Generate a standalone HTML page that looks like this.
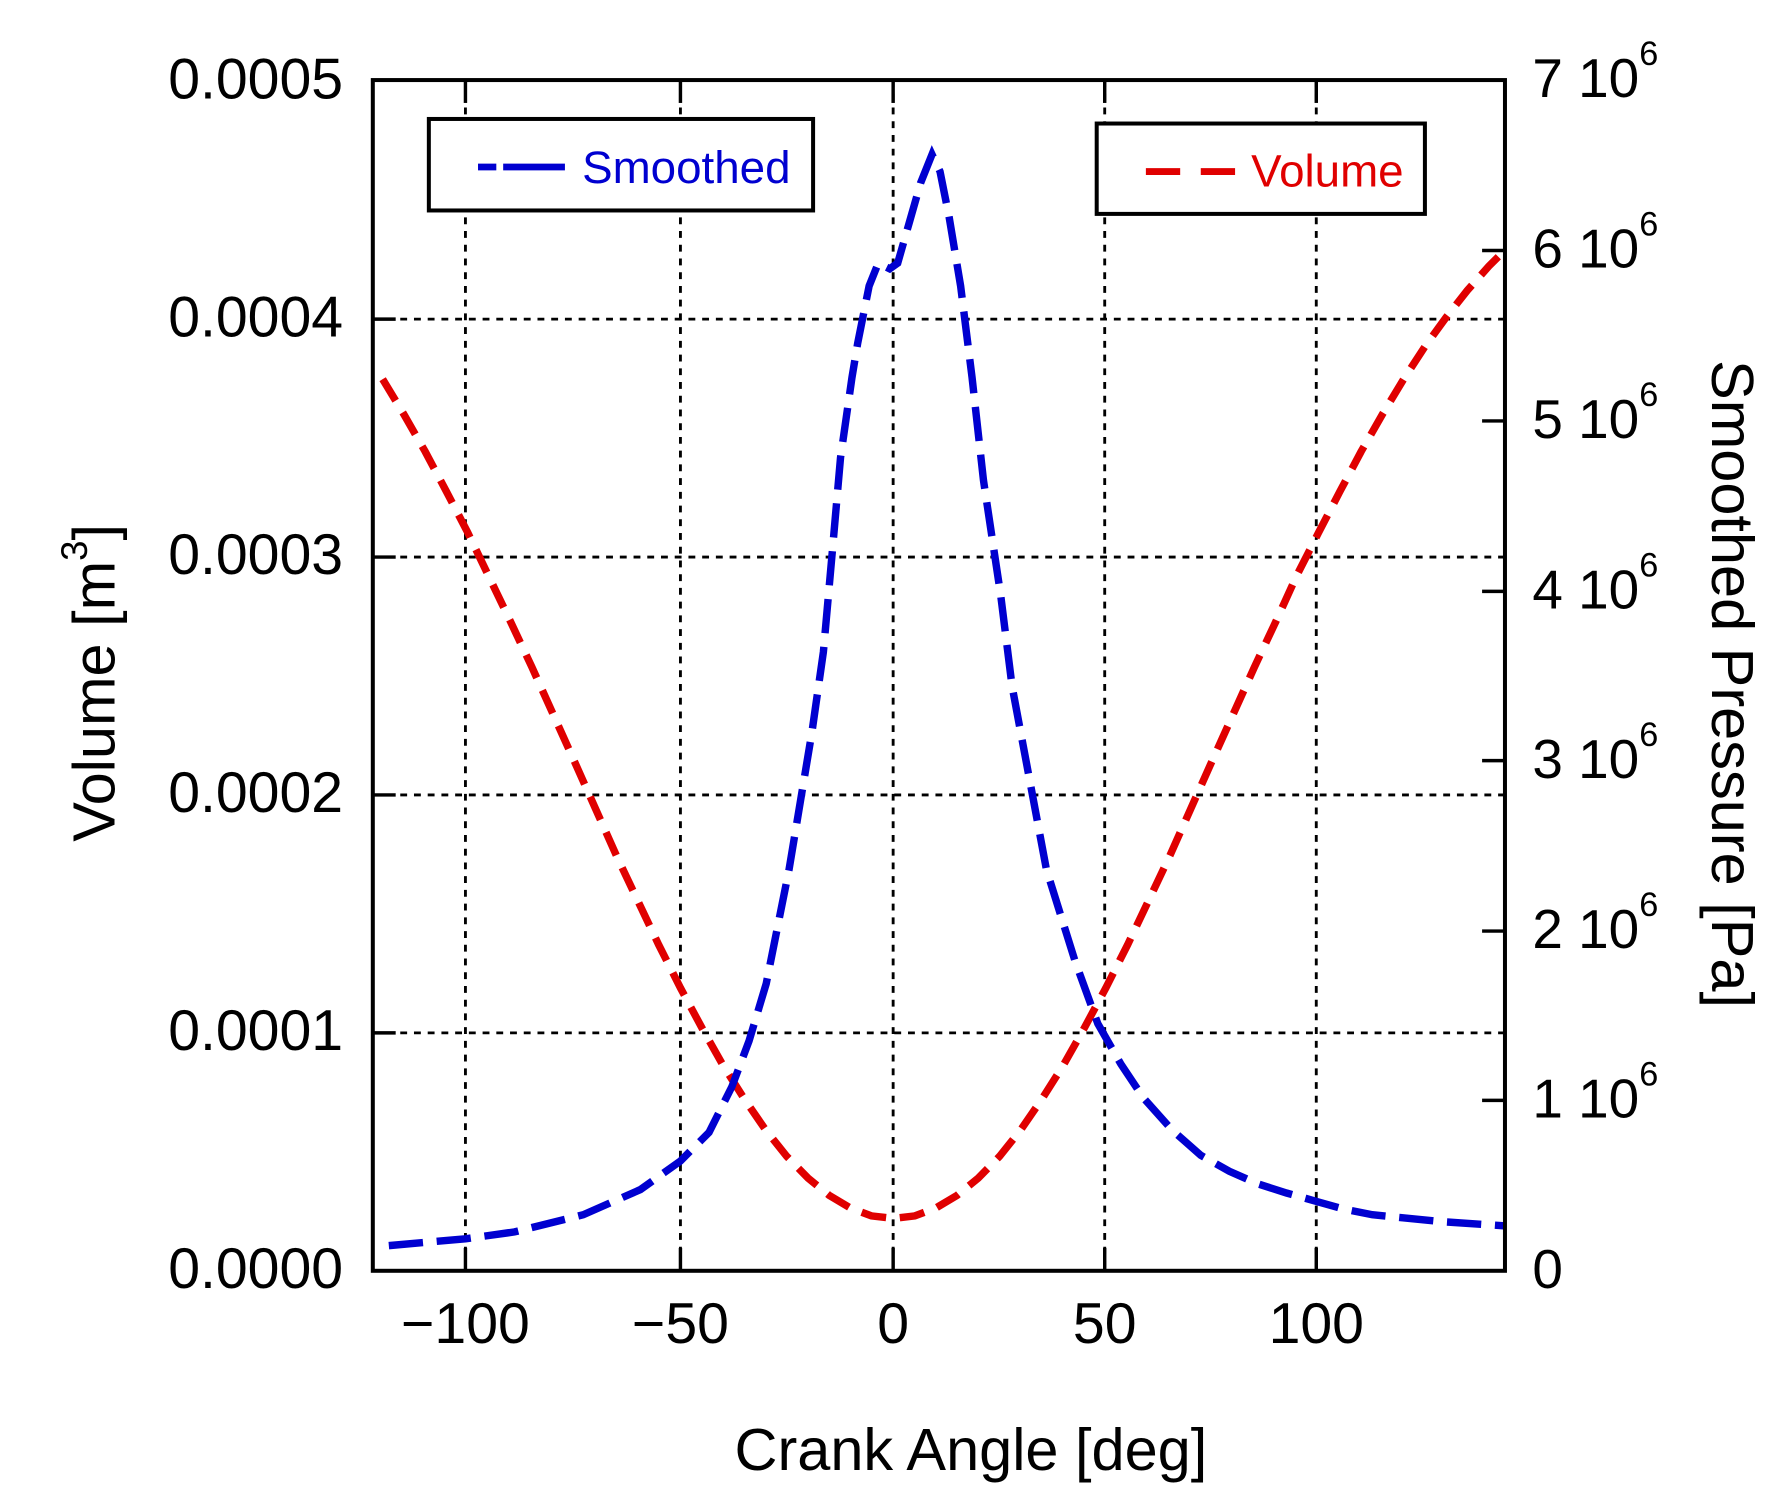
<!DOCTYPE html>
<html><head><meta charset="utf-8"><style>
html,body{margin:0;padding:0;background:#fff;}
svg{display:block;}
text{font-family:"Liberation Sans",Arial,sans-serif;}
</style></head><body>
<svg width="1784" height="1511" viewBox="0 0 1560 1321" preserveAspectRatio="none" xmlns="http://www.w3.org/2000/svg">
<defs><clipPath id="c"><rect x="326" y="70" width="990" height="1041"/></clipPath></defs>
<g stroke="#000" stroke-width="2.5" stroke-dasharray="6,6">
<line x1="407" y1="70" x2="407" y2="1111"/>
<line x1="595" y1="70" x2="595" y2="1111"/>
<line x1="781" y1="70" x2="781" y2="1111"/>
<line x1="966" y1="70" x2="966" y2="1111"/>
<line x1="1151" y1="70" x2="1151" y2="1111"/>
<line x1="326" y1="903" x2="1316" y2="903"/>
<line x1="326" y1="695" x2="1316" y2="695"/>
<line x1="326" y1="487" x2="1316" y2="487"/>
<line x1="326" y1="279" x2="1316" y2="279"/>
</g>
<g stroke="#000" stroke-width="3">
<line x1="407" y1="1111" x2="407" y2="1091"/><line x1="595" y1="1111" x2="595" y2="1091"/><line x1="781" y1="1111" x2="781" y2="1091"/><line x1="966" y1="1111" x2="966" y2="1091"/><line x1="1151" y1="1111" x2="1151" y2="1091"/>
<line x1="407" y1="70" x2="407" y2="90"/><line x1="595" y1="70" x2="595" y2="90"/><line x1="781" y1="70" x2="781" y2="90"/><line x1="966" y1="70" x2="966" y2="90"/><line x1="1151" y1="70" x2="1151" y2="90"/>
<line x1="326" y1="903" x2="346" y2="903"/><line x1="326" y1="695" x2="346" y2="695"/><line x1="326" y1="487" x2="346" y2="487"/><line x1="326" y1="279" x2="346" y2="279"/>
<line x1="1296" y1="962" x2="1316" y2="962"/><line x1="1296" y1="814" x2="1316" y2="814"/><line x1="1296" y1="665" x2="1316" y2="665"/><line x1="1296" y1="517" x2="1316" y2="517"/><line x1="1296" y1="368" x2="1316" y2="368"/><line x1="1296" y1="219" x2="1316" y2="219"/>
</g>
<g clip-path="url(#c)" fill="none" stroke-width="6.5">
<polyline stroke="#e00000" stroke-dasharray="22,12" points="334.6,331.5 353,362 371.8,394.8 390,429 409,465.6 427,503 446,542.6 465,583 483.4,623.8 502,665 520.6,706.7 539,748 557.8,787.7 576,826 595,863.7 614,899 632.2,931.3 651,961 669.4,987.7 688,1011 706.6,1030 725,1045 743.8,1056.2 762,1063 781,1065.2 800,1063 818.2,1056.2 837,1045 855.4,1030 874,1011 892.6,987.7 911,961 929.8,931.3 948,899 967,863.7 986,826 1004.2,787.7 1023,748 1041.4,706.7 1060,665 1078.6,623.8 1097,583 1116,542.6 1134,503 1153,465.6 1172,429 1190.2,394.8 1209,362 1227.4,331.5 1246,303 1264.6,277.4 1283,254 1301.8,232.8 1320.4,214.3"/>
<polyline stroke="#0000d0" stroke-dasharray="30,12" points="340,1089 407,1083 450,1077 510,1062 560,1040 595,1015 620,990 640,950 655,910 670,860 680,810 690,760 700,700 710,640 720,570 728,480 735,400 745,330 750,300 760,250 768,230 778,235 785,230 795,195 805,160 815,135 822,150 830,190 840,250 850,330 860,420 875,520 885,600 900,680 915,760 940,840 960,895 980,930 1000,960 1025,988 1050,1010 1075,1024 1100,1035 1125,1043 1150,1050 1175,1057 1200,1062 1260,1068 1320,1072"/>
</g>
<rect x="326" y="70" width="990" height="1041" fill="none" stroke="#000" stroke-width="3.5"/>
<rect x="375" y="104" width="336" height="80" fill="#fff" stroke="#000" stroke-width="3.5"/>
<line x1="418" y1="146" x2="494" y2="146" stroke="#0000d0" stroke-width="6" stroke-dasharray="16,6,60,0"/>
<text x="509" y="160" font-size="40" fill="#0000d0">Smoothed</text>
<rect x="959" y="108" width="287" height="79" fill="#fff" stroke="#000" stroke-width="3.5"/>
<line x1="1002" y1="150" x2="1080" y2="150" stroke="#e00000" stroke-width="6" stroke-dasharray="30,18"/>
<text x="1094" y="163" font-size="40" fill="#e00000">Volume</text>
<g font-size="50" text-anchor="end" fill="#000">
<text x="300" y="86">0.0005</text><text x="300" y="294">0.0004</text><text x="300" y="502">0.0003</text><text x="300" y="710">0.0002</text><text x="300" y="918">0.0001</text><text x="300" y="1126">0.0000</text>
</g>
<g font-size="50" text-anchor="middle" fill="#000">
<text x="407" y="1174">−100</text><text x="595" y="1174">−50</text><text x="781" y="1174">0</text><text x="966" y="1174">50</text><text x="1151" y="1174">100</text>
<text x="849" y="1285" font-size="52">Crank Angle [deg]</text>
</g>
<g font-size="48" fill="#000">
<text x="1340" y="1126">0</text>
<text x="1340" y="977">1 10<tspan font-size="30" dy="-28">6</tspan></text>
<text x="1340" y="829">2 10<tspan font-size="30" dy="-28">6</tspan></text>
<text x="1340" y="680">3 10<tspan font-size="30" dy="-28">6</tspan></text>
<text x="1340" y="532">4 10<tspan font-size="30" dy="-28">6</tspan></text>
<text x="1340" y="383">5 10<tspan font-size="30" dy="-28">6</tspan></text>
<text x="1340" y="234">6 10<tspan font-size="30" dy="-28">6</tspan></text>
<text x="1340" y="85">7 10<tspan font-size="30" dy="-28">6</tspan></text>
</g>
<text transform="translate(100,597) rotate(-90)" font-size="52" text-anchor="middle">Volume [m<tspan font-size="32" dy="-24">3</tspan><tspan dy="24">]</tspan></text>
<text transform="translate(1497,598) rotate(90)" font-size="52" text-anchor="middle">Smoothed Pressure [Pa]</text>
</svg>
</body></html>
